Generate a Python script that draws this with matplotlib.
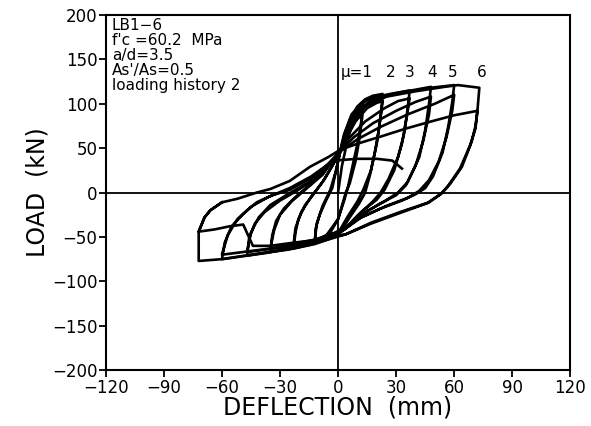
import matplotlib
matplotlib.use("Agg")
import matplotlib.pyplot as plt

# hysteresis paths per ductility level (deflection mm, load kN)
x_mu1 = [0, 2, 5, 8, 11, 13, 12.5, 11, 9, 6, 4, 2, 0, -4, -8, -12,
         -11.5, -9.5, -6, -3, -1, 1, 4, 8, 11, 12.5, 12, 10, 7, 5, 3, 0, -6, -12,
         -11, -8, -4, -1, 1]
y_mu1 = [0, 30, 60, 82, 96, 101, 85, 60, 35, 10, 0, -15, -30, -45, -52, -56,
         -40, -25, -8, 5, 25, 45, 65, 85, 96, 98, 80, 55, 25, 5, -10, -30, -48, -54,
         -35, -15, 3, 25, 45]

x_mu2 = [1, 3, 6, 10, 14, 18, 23, 22.5, 21, 19, 16.5, 14, 11, 6, 2, -3, -12, -23,
         -22, -20.5, -17, -12, -7, -3, 1, 4, 9, 15, 20, 23,
         22, 20, 17, 13, 10, 5, 1, -8, -23, -22, -19, -14, -8, -3, 1]
y_mu2 = [45, 62, 82, 97, 105, 109, 111, 95, 70, 45, 20, 0, -12, -28, -42, -51, -58, -63,
         -45, -30, -14, 0, 15, 30, 46, 60, 80, 95, 101, 103,
         85, 55, 25, 3, -10, -27, -42, -53, -59, -40, -22, -5, 12, 30, 46]

x_mu3 = [1, 3, 7, 12, 18, 27, 37, 36, 34, 31, 26, 22, 18, 10, 4, -2, -15, -25, -35,
         -34, -32, -28, -22, -15, -8, -2, 1, 6, 14, 24, 31, 37,
         35.5, 33, 29, 24, 20, 12, 4, -5, -20, -35,
         -33, -30, -24, -16, -8, -2, 1]
y_mu3 = [46, 65, 88, 100, 107, 111, 115, 95, 65, 40, 15, 0, -10, -26, -40, -50, -59, -64, -67,
         -48, -32, -18, -5, 8, 22, 38, 46, 62, 80, 95, 103, 106,
         85, 55, 25, 3, -8, -22, -40, -52, -60, -63,
         -42, -25, -10, 5, 20, 38, 46]

x_mu4 = [1, 4, 10, 18, 28, 38, 48, 47, 45, 42, 36, 31, 24, 14, 5, 0, -10, -25, -37, -47,
         -46, -43, -38, -30, -22, -12, -4, 1, 8, 18, 30, 40, 48,
         47, 44, 40, 35, 30, 22, 10, 3, -10, -30, -47,
         -45, -41, -35, -26, -15, -6, 1]
y_mu4 = [46, 70, 92, 105, 111, 115, 119, 100, 70, 40, 12, 0, -10, -22, -37, -48, -55, -63, -68, -71,
         -52, -35, -22, -9, 1, 15, 33, 46, 62, 78, 92, 102, 108,
         88, 58, 30, 8, -3, -12, -28, -42, -53, -62, -67,
         -45, -28, -14, -2, 12, 28, 46]

x_mu5 = [1, 5, 12, 22, 35, 48, 60, 59, 57, 54, 49, 45, 40, 33, 22, 10, 3, -12, -30, -47, -60,
         -58.5, -55, -49, -42, -34, -25, -15, -7, 1, 10, 22, 36, 50, 60,
         59, 56, 52, 47, 42, 36, 25, 12, 3, -12, -35, -60,
         -57, -52, -45, -36, -25, -14, -5, 1]
y_mu5 = [46, 72, 95, 107, 113, 118, 121, 102, 75, 45, 18, 5, -2, -9, -18, -30, -42, -54, -65, -71, -75,
         -56, -38, -24, -11, -3, 3, 15, 28, 46, 60, 74, 88, 100, 110,
         92, 62, 35, 14, 2, -6, -15, -28, -42, -53, -63, -70,
         -48, -30, -16, -5, 5, 18, 32, 46]

x_mu6 = [1, 6, 14, 25, 40, 55, 62, 73, 72, 71, 69, 64, 58, 54, 47, 32, 17, 4, -10, -26, -45, -60, -72,
         -72, -72, -69, -66, -60, -52, -42, -35, -25, -14.5, -5, 1,
         10, 22, 35, 48, 60, 72, 71, 68, 63, 57, 53, 46, 32, 17, 4,
         -10, -25, -35, -44, -49, -56, -64, -72, -69, -66, -60]
y_mu6 = [46, 75, 97, 108, 114, 119, 121, 118, 92, 75, 57, 29, 10, 0, -11, -22, -34, -47, -56, -64, -70, -75, -77,
         -60, -44, -28, -20, -11, -7, 0, 4, 13, 29, 40, 48,
         55, 63, 72, 80, 87, 92, 72, 52, 27, 8, -2, -12, -23, -35, -47,
         -53, -57, -60, -60, -36, -38, -41.6, -44, -28, -20, -11]

x_end = [-2, 10, 20, 28, 33]
y_end = [36, 38, 38, 36, 27]

mu_labels = ["\u03bc=1", "2", "3", "4", "5", "6"]
mu_label_x = [15.5, 27, 37, 48.6, 59, 74.5]
mu_label_y = 135

spec_text = "LB1\u22126\nf'c =60.2  MPa\na/d=3.5\nAs'/As=0.5\nloading history 2"

xticks = [-120, -90, -60, -30, 0, 30, 60, 90, 120]
yticks = [-200, -150, -100, -50, 0, 50, 100, 150, 200]

fig = plt.figure(figsize=(5.91, 4.26), dpi=100)
ax = fig.add_axes([0.179, 0.131, 0.786, 0.834])

ax.axhline(0, color="black", lw=1.3, zorder=1)
ax.axvline(0, color="black", lw=1.3, zorder=1)

for xs, ys in [(x_mu1, y_mu1), (x_mu2, y_mu2), (x_mu3, y_mu3),
               (x_mu4, y_mu4), (x_mu5, y_mu5), (x_mu6, y_mu6), (x_end, y_end)]:
    ax.plot(xs, ys, color="black", lw=1.9, solid_joinstyle="round", zorder=2)

# ductility labels over the peaks
for lab, lx in zip(mu_labels, mu_label_x):
    if lab.startswith("\u03bc"):
        ax.text(lx + 2.5, mu_label_y, lab, ha="right", va="center", fontsize=11)
    else:
        ax.text(lx, mu_label_y, lab, ha="center", va="center", fontsize=11)

ax.text(0.013, 0.99, spec_text, transform=ax.transAxes, ha="left", va="top",
        fontsize=11, linespacing=0.98)

ax.set_xlim(-120, 120)
ax.set_ylim(-200, 200)
ax.set_xticks(xticks)
ax.set_yticks(yticks)
ax.tick_params(direction="out", length=5, width=1.3, labelsize=12, pad=1)
for s in ax.spines.values():
    s.set_linewidth(1.5)

ax.set_xlabel("DEFLECTION  (mm)", fontsize=17, labelpad=-1)
ax.set_ylabel("LOAD  (kN)", fontsize=17, labelpad=2)

fig.savefig("out.png", dpi=100)
